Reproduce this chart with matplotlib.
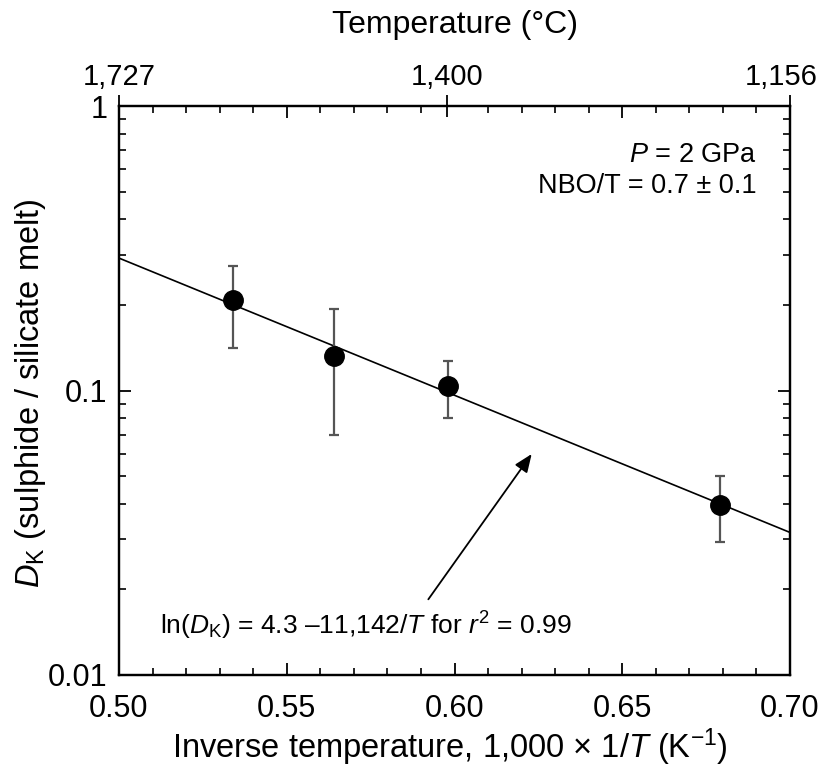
import matplotlib
matplotlib.use("Agg")
import matplotlib.pyplot as plt
from matplotlib.ticker import FixedLocator, NullFormatter, LogLocator, FixedFormatter
from matplotlib.transforms import ScaledTranslation

plt.rcParams['font.family'] = ['Liberation Sans', 'DejaVu Sans']
plt.rcParams['mathtext.fontset'] = 'custom'
plt.rcParams['mathtext.rm'] = 'Liberation Sans'
plt.rcParams['mathtext.it'] = 'Liberation Sans:italic'

# data
inv_T = [0.534, 0.564, 0.598, 0.679]
D_K = [0.208, 0.132, 0.104, 0.0396]
err_hi = [0.275, 0.194, 0.127, 0.050]
err_lo = [0.141, 0.0696, 0.0798, 0.0293]
fit_x = [0.50, 0.70]
fit_y = [0.292, 0.0317]
x_major = [0.50, 0.55, 0.60, 0.65, 0.70]
x_labels = ['0.50', '0.55', '0.60', '0.65', '0.70']
x_minor = [0.51, 0.52, 0.53, 0.54, 0.56, 0.57, 0.58, 0.59,
           0.61, 0.62, 0.63, 0.64, 0.66, 0.67, 0.68, 0.69]
y_major = [0.01, 0.1, 1]
y_labels = ['0.01', '0.1', '1']
top_ticks_x = [0.50, 0.5977, 0.70]
top_labels = ['1,727', '1,400', '1,156']
top_mid = [0.55, 0.65]

PX = 0.72  # points per pixel at dpi 100

fig = plt.figure(figsize=(8.25, 7.73), dpi=100)
ax = fig.add_axes([119/825, 1-675/773, (790-119)/825, (675-106)/773])

ax.plot(fit_x, fit_y, color='black', lw=1.2, zorder=2)
yerr = [[d - l for d, l in zip(D_K, err_lo)], [h - d for d, h in zip(D_K, err_hi)]]
ax.errorbar(inv_T, D_K, yerr=yerr, fmt='o', color='black', ecolor='#555555',
            elinewidth=1.6, capsize=3.5, capthick=1.6, markersize=14, zorder=3)

ax.set_yscale('log')
ax.set_xlim(0.50, 0.70)
ax.set_ylim(0.01, 1)

ax.xaxis.set_major_locator(FixedLocator(x_major))
ax.xaxis.set_major_formatter(FixedFormatter(x_labels))
ax.xaxis.set_minor_locator(FixedLocator(x_minor))
ax.yaxis.set_major_locator(FixedLocator(y_major))
ax.yaxis.set_major_formatter(FixedFormatter(y_labels))
ax.yaxis.set_minor_locator(LogLocator(base=10, subs=range(2, 10)))
ax.yaxis.set_minor_formatter(NullFormatter())

ax.tick_params(axis='both', which='major', direction='in', length=12*PX, width=1.3,
               labelsize=22, right=True, top=False)
ax.tick_params(axis='both', which='minor', direction='in', length=7*PX, width=1.2,
               right=True, top=False)
ax.tick_params(axis='x', which='major', pad=14)
ax.tick_params(axis='y', which='major', pad=8.5)
for s in ax.spines.values():
    s.set_linewidth(1.6)

ax.set_xlabel('Inverse temperature, 1,000 × 1/$T$ (K$^{-1}$)', fontsize=23.5)
ax.xaxis.set_label_coords(0.4933, (675-747)/569)
ax.xaxis.label.set_va('center')
ax.set_ylabel('$D_\\mathrm{K}$ (sulphide / silicate melt)', fontsize=23.5)
ax.yaxis.set_label_coords((30-119)/671, (675-393)/569)
ax.yaxis.label.set_va('center')

# top axis: temperature labels
top = ax.twiny()
top.set_xlim(ax.get_xlim())
top.xaxis.set_major_locator(FixedLocator(top_ticks_x))
top.xaxis.set_major_formatter(FixedFormatter(top_labels))
top.xaxis.set_minor_locator(FixedLocator([]))
top.tick_params(axis='x', which='major', direction='inout', length=22*PX, width=1.3,
                labelsize=21, pad=3)
top.set_xlabel('Temperature (°C)', fontsize=23)
top.xaxis.set_label_coords(0.5, (675-25)/569)
top.xaxis.label.set_va('center')
for s in top.spines.values():
    s.set_linewidth(1.6)

# top axis: medium and minor ticks
top2 = ax.twiny()
top2.set_xlim(ax.get_xlim())
top2.xaxis.set_major_locator(FixedLocator(top_mid))
top2.xaxis.set_major_formatter(NullFormatter())
top2.xaxis.set_minor_locator(FixedLocator(x_minor))
top2.tick_params(axis='x', which='major', direction='in', length=12*PX, width=1.3)
top2.tick_params(axis='x', which='minor', direction='in', length=7*PX, width=1.2)
for s in top2.spines.values():
    s.set_visible(False)

ax.text((757-119)/671, (675-162)/569, '$P$ = 2 GPa', transform=ax.transAxes,
        ha='right', va='baseline', fontsize=19.5)
ax.text((757-119)/671, (675-193)/569, 'NBO/T = 0.7 ± 0.1', transform=ax.transAxes,
        ha='right', va='baseline', fontsize=19.5)

ax.annotate('', xy=(0.623, 0.0598), xytext=(0.5922, 0.01845),
            arrowprops=dict(arrowstyle='-|>,head_length=1.1,head_width=0.45',
                            color='black', lw=1.3, shrinkA=0, shrinkB=0))
ax.text(0.5122, 0.01383, 'ln($D_\\mathrm{K}$) = 4.3 –11,142/$T$ for $r^2$ = 0.99',
        fontsize=19, ha='left', va='baseline')

# nudge the rightmost top label inward so it stays inside the figure
fig.canvas.draw()
for lbl in top.get_xticklabels():
    if lbl.get_text() == '1,156':
        lbl.set_transform(lbl.get_transform() + ScaledTranslation(-9/100, 0, fig.dpi_scale_trans))

fig.savefig('out.png', dpi=100)
